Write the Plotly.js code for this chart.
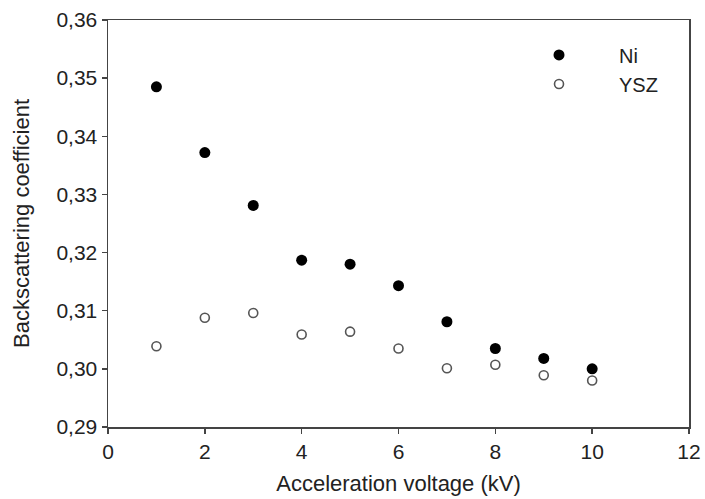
<!DOCTYPE html>
<html>
<head>
<meta charset="utf-8">
<script src="https://cdn.plot.ly/plotly-3.0.1.min.js"></script>
<style>html,body{margin:0;padding:0;background:#fff;}</style>
</head>
<body>
<div id="chart" style="width:705px;height:499px;"></div>
<script>
const voltage = [1, 2, 3, 4, 5, 6, 7, 8, 9, 10];
const ni = [0.3485, 0.3372, 0.3281, 0.3187, 0.3180, 0.3143, 0.3081, 0.3035, 0.3018, 0.3000];
const ysz = [0.3039, 0.3088, 0.3096, 0.3059, 0.3064, 0.3035, 0.3001, 0.3007, 0.2989, 0.2980];
const xTicks = [0, 2, 4, 6, 8, 10, 12];
const yTicks = [0.29, 0.30, 0.31, 0.32, 0.33, 0.34, 0.35, 0.36];

const tickFont = {family: 'Liberation Sans, Arial, sans-serif', size: 21, color: '#222'};
const titleFont = {family: 'Liberation Sans, Arial, sans-serif', size: 22, color: '#222'};
const legendFont = {family: 'Liberation Sans, Arial, sans-serif', size: 20, color: '#222'};

const traces = [
  {x: voltage, y: ni, name: 'Ni', type: 'scatter', mode: 'markers',
   marker: {symbol: 'circle', size: 11, color: '#000', line: {width: 0}}},
  {x: voltage, y: ysz, name: 'YSZ', type: 'scatter', mode: 'markers',
   marker: {symbol: 'circle', size: 9, color: '#fff', line: {width: 1.6, color: '#555'}}}
];

const axisCommon = {
  showgrid: false, zeroline: false, showline: true, mirror: true,
  linecolor: '#444', linewidth: 1.5, ticks: 'outside', ticklen: 5,
  tickwidth: 1.5, tickcolor: '#444', tickfont: tickFont, automargin: false
};

const layout = {
  width: 705, height: 499,
  margin: {l: 108, r: 16, t: 20, b: 72},
  paper_bgcolor: '#fff', plot_bgcolor: '#fff',
  separators: ', ',
  showlegend: true,
  legend: {xref: 'paper', yref: 'paper', x: 0.673, y: 0.962,
    xanchor: 'left', yanchor: 'top', itemwidth: 110, font: legendFont,
    bgcolor: 'rgba(0,0,0,0)', borderwidth: 0, tracegroupgap: 0},
  xaxis: Object.assign({}, axisCommon, {
    range: [0, 12], tickvals: xTicks, ticktext: xTicks.map(String),
    title: {text: 'Acceleration voltage (kV)', font: titleFont, standoff: 14}
  }),
  yaxis: Object.assign({}, axisCommon, {
    range: [0.29, 0.36], tickvals: yTicks,
    ticktext: yTicks.map(v => v.toFixed(2).replace('.', ',')),
    title: {text: 'Backscattering coefficient', font: titleFont, standoff: 20}
  })
};

Plotly.newPlot('chart', traces, layout, {displayModeBar: false, staticPlot: true});
</script>
</body>
</html>
